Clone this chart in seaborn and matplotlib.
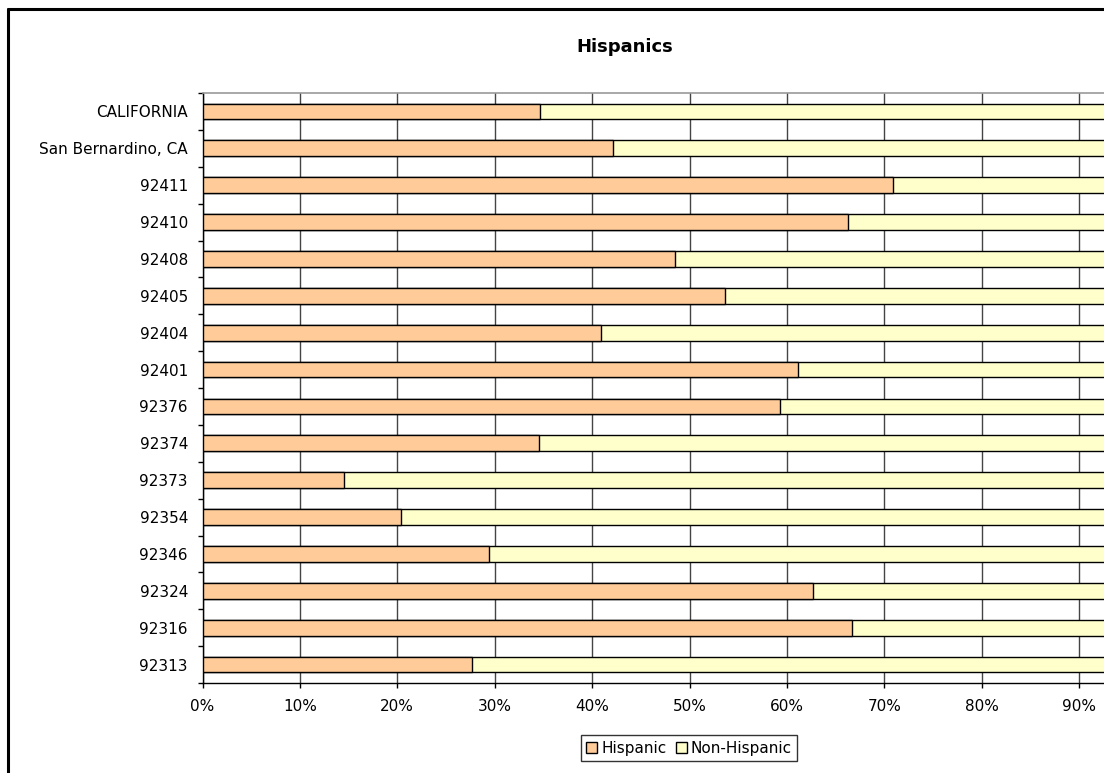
import numpy as np
import pandas as pd
import matplotlib
matplotlib.use("Agg")
import matplotlib.pyplot as plt
from matplotlib.patches import Patch
from matplotlib.lines import Line2D
import seaborn as sns

# Share of population by ethnicity (percent)
areas = ["CALIFORNIA", "San Bernardino, CA", "92411", "92410", "92408", "92405",
         "92404", "92401", "92376", "92374", "92373", "92354", "92346", "92324",
         "92316", "92313"]
hispanic = [34.6, 42.1, 70.9, 66.3, 48.5, 53.6, 40.9, 61.1, 59.3, 34.5, 14.5,
            20.4, 29.4, 62.7, 66.7, 27.7]
non_hispanic = [100 - v for v in hispanic]
series_names = ["Hispanic", "Non-Hispanic"]
series_colors = ["#FFCC99", "#FFFFCC"]
x_ticks = [0, 10, 20, 30, 40, 50, 60, 70, 80, 90]
x_tick_labels = [f"{v}%" for v in x_ticks]

df = pd.DataFrame({"area": areas, "Hispanic": hispanic, "Non-Hispanic": non_hispanic})
df["stack_total"] = df["Hispanic"] + df["Non-Hispanic"]

sns.set_style("white")
plt.rcParams["font.family"] = ["DejaVu Sans"]
plt.rcParams["text.color"] = "black"
plt.rcParams["axes.labelcolor"] = "black"
plt.rcParams["xtick.color"] = "black"
plt.rcParams["ytick.color"] = "black"

W, H = 1104, 773
fig = plt.figure(figsize=(W / 100, H / 100), dpi=100)
fig.patch.set_facecolor("white")

# Plot area extends past the right edge of the canvas
ax = fig.add_axes([202.5 / W, (H - 683) / H, 974 / W, 590 / H])

bar_w = 0.43
sns.barplot(data=df, y="area", x="stack_total", order=areas, orient="h",
            color=series_colors[1], edgecolor="black", linewidth=1.0,
            width=bar_w, saturation=1, ax=ax, zorder=2)
sns.barplot(data=df, y="area", x="Hispanic", order=areas, orient="h",
            color=series_colors[0], edgecolor="black", linewidth=1.0,
            width=bar_w, saturation=1, ax=ax, zorder=3)

ax.set_xlim(0, 100)
ax.set_ylim(len(areas) - 0.5, -0.5)
ax.set_xlabel("")
ax.set_ylabel("")

ax.set_xticks(x_ticks)
ax.set_xticklabels(x_tick_labels)
ax.set_yticks(range(len(areas)))
ax.set_yticklabels(areas)
ax.set_yticks(np.arange(-0.5, len(areas), 1), minor=True)

ax.tick_params(axis="x", which="major", direction="out", length=3.6, width=1,
               color="black", labelcolor="black", labelsize=11, pad=8, bottom=True)
ax.tick_params(axis="y", which="major", length=0, labelsize=11, pad=10.5,
               labelcolor="black", left=False)
ax.tick_params(axis="y", which="minor", direction="out", length=3.6, width=1,
               color="black", left=True)

ax.xaxis.grid(True, color="#444444", linewidth=1.0)
ax.yaxis.grid(False)
ax.set_axisbelow(True)

for side in ["left", "bottom"]:
    ax.spines[side].set_visible(True)
    ax.spines[side].set_color("black")
    ax.spines[side].set_linewidth(1.0)
ax.spines["top"].set_visible(True)
ax.spines["top"].set_color("#999999")
ax.spines["top"].set_linewidth(1.2)
ax.spines["right"].set_visible(False)

fig.text(625 / W, 1 - 47 / H, "Hispanics", ha="center", va="center",
         fontsize=13, fontweight="bold", color="black")

handles = [Patch(facecolor=c, edgecolor="black", linewidth=1.0, label=n)
           for n, c in zip(series_names, series_colors)]
leg = fig.legend(handles=handles, loc="center", bbox_to_anchor=(689 / W, 1 - 748 / H),
                 ncol=2, frameon=True, fancybox=False, shadow=False,
                 fontsize=11, handlelength=0.75, handleheight=0.75,
                 handletextpad=0.25, columnspacing=0.6, borderpad=0.35,
                 borderaxespad=0)
leg.get_frame().set_edgecolor("black")
leg.get_frame().set_linewidth(1.0)
for t in leg.get_texts():
    t.set_color("black")

# Chart area border
fig.add_artist(Line2D([7.5 / W, 7.5 / W], [-0.1, 1 - 9 / H], transform=fig.transFigure,
                      color="black", linewidth=2.2))
fig.add_artist(Line2D([7.5 / W, 1.1], [1 - 9 / H, 1 - 9 / H], transform=fig.transFigure,
                      color="black", linewidth=2.2))

fig.savefig("out.png", dpi=100, facecolor="white")
